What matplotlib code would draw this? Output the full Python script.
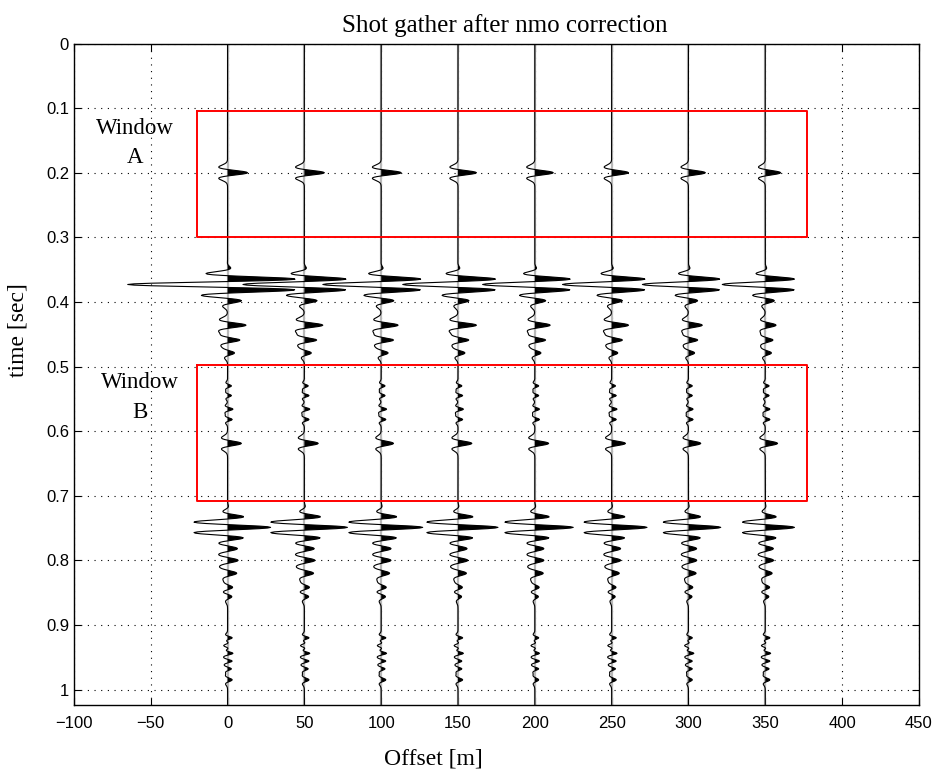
"""Shot gather after NMO correction: wiggle plot with two analysis windows."""

import numpy as np
import matplotlib
matplotlib.use('Agg')
import matplotlib.pyplot as plt

# === Global figure style (MATLAB-ish look)
plt.rcParams['font.family'] = ['Liberation Sans', 'DejaVu Sans']
matplotlib.rcParams['xtick.direction'] = 'in'
matplotlib.rcParams['ytick.direction'] = 'in'
matplotlib.rcParams['xtick.top'] = True
matplotlib.rcParams['ytick.right'] = True
matplotlib.rcParams['xtick.major.size'] = 5
matplotlib.rcParams['ytick.major.size'] = 5
matplotlib.rcParams['xtick.major.pad'] = 8
matplotlib.rcParams['axes.linewidth'] = 1.0
plt.rcParams['xtick.labelsize'] = 12
plt.rcParams['ytick.labelsize'] = 12

serif = ['Liberation Serif', 'DejaVu Serif']

# === Data
offsets = [0, 50, 100, 150, 200, 250, 300, 350]   # m
dt = 0.001
nsamp = 1024

# single-lobe (Ricker) events: time [s], peak freq [Hz], amplitude per trace
ricker_t = [0.200, 0.398, 0.436, 0.459, 0.479, 0.530, 0.545, 0.566, 0.582, 0.619,
            0.782, 0.800, 0.820, 0.842, 0.856,
            0.920, 0.932, 0.944, 0.956, 0.968, 0.985]
ricker_f = [45, 45, 45, 50, 50, 75, 75, 70, 70, 45,
            45, 45, 45, 50, 50,
            75, 75, 75, 75, 75, 60]
ricker_amp = [
    [1.3, 1.3, 1.3, 1.2, 1.2, 1.1, 1.1, 1.0],
    [0.7, 0.7, 0.7, 0.6, 0.6, 0.6, 0.5, 0.5],
    [1.2, 1.2, 1.1, 1.2, 1.0, 1.1, 0.9, 0.7],
    [0.8, 0.8, 0.8, 0.7, 0.7, 0.7, 0.6, 0.5],
    [0.45, 0.45, 0.45, 0.45, 0.4, 0.4, 0.4, 0.4],
    [0.25, 0.25, 0.25, 0.25, 0.25, 0.25, 0.25, 0.25],
    [0.25, 0.3, 0.25, 0.3, 0.25, 0.3, 0.25, 0.25],
    [0.35, 0.35, 0.35, 0.35, 0.3, 0.35, 0.3, 0.3],
    [0.3, 0.3, 0.3, 0.3, 0.3, 0.3, 0.3, 0.3],
    [0.9, 0.9, 0.8, 0.9, 0.9, 0.9, 0.8, 0.8],
    [0.6, 0.6, 0.6, 0.55, 0.55, 0.55, 0.5, 0.5],
    [0.7, 0.7, 0.65, 0.65, 0.6, 0.6, 0.55, 0.55],
    [0.6, 0.6, 0.55, 0.55, 0.55, 0.5, 0.5, 0.45],
    [0.35, 0.35, 0.35, 0.3, 0.3, 0.3, 0.3, 0.3],
    [0.3, 0.3, 0.3, 0.25, 0.25, 0.25, 0.25, 0.25],
    [0.3, 0.3, 0.3, 0.3, 0.25, 0.3, 0.25, 0.3],
    [-0.25, -0.25, -0.25, -0.25, -0.25, -0.25, -0.25, -0.25],
    [0.35, 0.35, 0.35, 0.35, 0.3, 0.35, 0.35, 0.35],
    [0.3, 0.3, 0.3, 0.25, 0.3, 0.3, 0.25, 0.3],
    [0.25, 0.25, 0.25, 0.25, 0.25, 0.25, 0.25, 0.25],
    [0.3, 0.3, 0.3, 0.3, 0.25, 0.3, 0.25, 0.3],
]

# multi-cycle bursts: centre time [s], freq [Hz], envelope width [s], amplitude per trace
burst_t = [0.373, 0.749]
burst_f = [55, 58]
burst_w = [0.010, 0.012]
burst_amp = [
    [-6.5, -4.0, -3.8, -3.6, -3.4, -3.2, -3.0, -2.8],
    [2.8, 2.8, 2.7, 2.6, 2.5, 2.3, 2.1, 1.9],
]

# analysis windows: label, offset range [m], time range [s]
win_labels = ['Window\nA', 'Window\nB']
win_x = [(-20, 377), (-20, 377)]
win_t = [(0.105, 0.300), (0.497, 0.708)]
win_text_pos = [(-60, 0.154), (-57, 0.548)]

gain = 10.0  # metres of offset per amplitude unit


def ricker(t, t0, f):
    a = (np.pi * f * (t - t0)) ** 2
    return (1 - 2 * a) * np.exp(-a)


def burst(t, t0, f, w):
    return np.exp(-0.5 * ((t - t0) / w) ** 2) * np.cos(2 * np.pi * f * (t - t0))


t = np.arange(nsamp) * dt

fig = plt.figure(figsize=(9.35, 7.69), dpi=100)
ax = fig.add_axes([0.0791, 0.0832, 0.9037, 0.8602])

for i, x0 in enumerate(offsets):
    tr = np.zeros(nsamp)
    for t0, f, amp in zip(ricker_t, ricker_f, ricker_amp):
        tr += amp[i] * ricker(t, t0, f)
    for t0, f, w, amp in zip(burst_t, burst_f, burst_w, burst_amp):
        tr += amp[i] * burst(t, t0, f, w)
    xs = x0 + gain * tr
    ax.plot([x0, x0], [t[0], t[-1]], color='0.72', lw=1.6, zorder=2)
    ax.fill_betweenx(t, x0, xs, where=tr > 0, interpolate=True,
                     color='k', lw=0, zorder=3)
    ax.plot(xs, t, color='k', lw=0.8, zorder=4)

# Windows
for lab, (xa, xb), (ta, tb), (tx, ty) in zip(win_labels, win_x, win_t, win_text_pos):
    ax.plot([xa, xb, xb, xa, xa], [ta, ta, tb, tb, ta], color='#ff0000', lw=1.4, zorder=5)
    ax.text(tx, ty, lab, family=serif, fontsize=16.5, ha='center', va='center',
            multialignment='center', linespacing=1.55)

ax.set_xlim(-100, 450)
ax.set_ylim(1.024, 0)
ax.set_xticks(np.arange(-100, 451, 50))
ax.set_yticks(np.arange(0, 1.01, 0.1))
ax.set_yticklabels(['0', '0.1', '0.2', '0.3', '0.4', '0.5', '0.6', '0.7', '0.8', '0.9', '1'])
ax.xaxis.set_major_formatter(matplotlib.ticker.FuncFormatter(
    lambda v, p: '{:d}'.format(int(v)).replace('-', '\u2212')))
ax.grid(True, linestyle=(0, (1, 5)), color='k', lw=0.8)
ax.set_axisbelow(True)

ax.set_xlabel('Offset [m]', family=serif, fontsize=17)
ax.xaxis.set_label_coords(0.425, -0.065)
ax.set_ylabel('time [sec]', family=serif, fontsize=17)
ax.yaxis.set_label_coords(-0.054, 0.567)
ax.set_title('Shot gather after nmo correction', family=serif, fontsize=18, pad=8, x=0.51)

plt.savefig('out.png', dpi=100)
plt.close()
